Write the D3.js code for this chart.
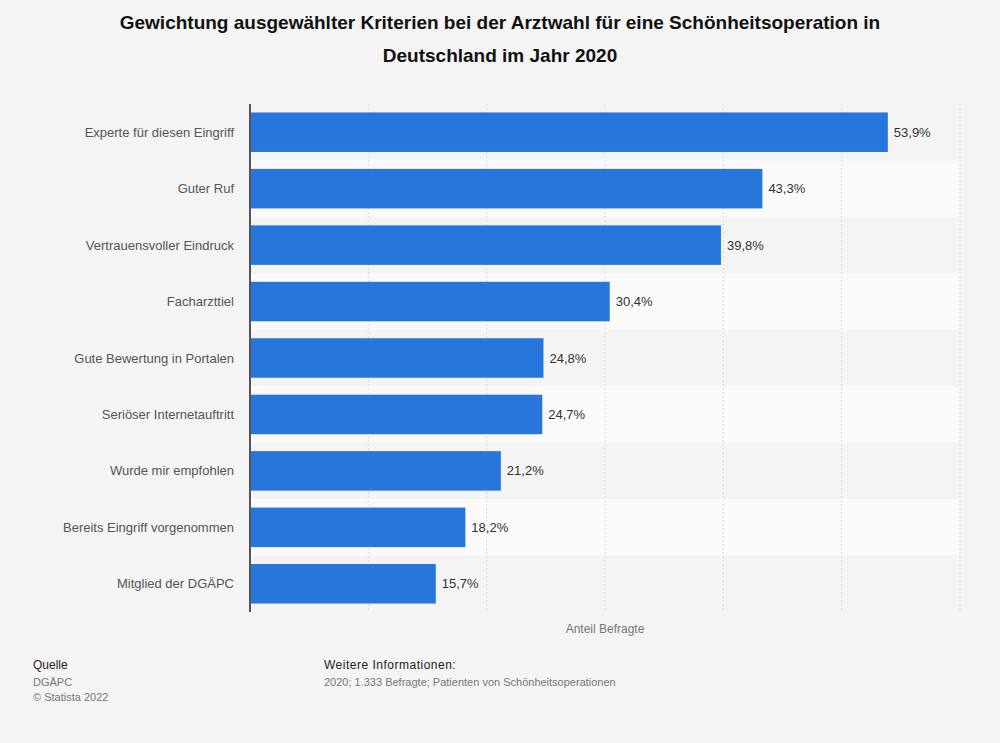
<!DOCTYPE html>
<html lang="de">
<head>
<meta charset="UTF-8">
<script src="https://cdn.jsdelivr.net/npm/d3@7"></script>
<style>
  body { margin: 0; background: #f4f4f4; }
  text { font-family: Arial, "Liberation Sans", sans-serif; }
</style>
</head>
<body>
<svg id="chart" width="1000" height="743"></svg>
<script>
const categories = ["Experte für diesen Eingriff", "Guter Ruf", "Vertrauensvoller Eindruck", "Facharzttiel",
  "Gute Bewertung in Portalen", "Seriöser Internetauftritt", "Wurde mir empfohlen",
  "Bereits Eingriff vorgenommen", "Mitglied der DGÄPC"];
const values = [53.9, 43.3, 39.8, 30.4, 24.8, 24.7, 21.2, 18.2, 15.7];
const ticks = [0, 10, 20, 30, 40, 50, 60];

const svg = d3.select("#chart");
svg.append("rect").attr("width", 1000).attr("height", 743).attr("fill", "#f4f4f4");

const x = d3.scaleLinear().domain([0, 60]).range([250, 960]);
const y = d3.scaleBand().domain(categories).range([104, 612]).paddingInner(0.3).paddingOuter(0.15);
const step = y.step();

// alternating row backgrounds
svg.append("g").selectAll("rect").data(categories).enter().append("rect")
  .attr("x", 250).attr("width", 710)
  .attr("y", d => y(d) - (step - y.bandwidth()) / 2)
  .attr("height", step)
  .attr("fill", (d, i) => i % 2 ? "#fafafa" : "#f4f4f4");

// gridlines
svg.append("g").selectAll("line").data(ticks.slice(1)).enter().append("line")
  .attr("x1", d => x(d)).attr("x2", d => x(d))
  .attr("y1", 104).attr("y2", 612)
  .attr("stroke", "#dcdcdc").attr("stroke-dasharray", "2,2");

// bars
svg.append("g").selectAll("rect").data(values).enter().append("rect")
  .attr("x", x(0)).attr("y", (d, i) => y(categories[i]))
  .attr("width", d => x(d) - x(0)).attr("height", y.bandwidth())
  .attr("fill", "#2776dc");

svg.append("g").selectAll("text").data(values).enter().append("text")
  .attr("x", d => x(d) + 6).attr("y", (d, i) => y(categories[i]) + y.bandwidth() / 2)
  .attr("dy", "0.35em").attr("font-size", 13).attr("fill", "#333")
  .text(d => d.toFixed(1).replace(".", ",") + "%");

// category labels
svg.append("g").selectAll("text").data(categories).enter().append("text")
  .attr("x", 234).attr("y", d => y(d) + y.bandwidth() / 2)
  .attr("dy", "0.35em").attr("text-anchor", "end").attr("font-size", 13).attr("fill", "#555")
  .text(d => d);

svg.append("line").attr("x1", 250).attr("x2", 250).attr("y1", 104).attr("y2", 612)
  .attr("stroke", "#555").attr("stroke-width", 2);

svg.append("text").attr("x", 605).attr("y", 633).attr("text-anchor", "middle")
  .attr("font-size", 12).attr("fill", "#777").text("Anteil Befragte");

// title
const title = svg.append("text").attr("text-anchor", "middle").attr("font-size", 19)
  .attr("font-weight", "bold").attr("fill", "#111");
title.append("tspan").attr("x", 500).attr("y", 29)
  .text("Gewichtung ausgewählter Kriterien bei der Arztwahl für eine Schönheitsoperation in");
title.append("tspan").attr("x", 500).attr("y", 62).text("Deutschland im Jahr 2020");

// footer
svg.append("text").attr("x", 33).attr("y", 669).attr("font-size", 12).attr("fill", "#222").text("Quelle");
svg.append("text").attr("x", 33).attr("y", 686).attr("font-size", 11).attr("fill", "#777").text("DGÄPC");
svg.append("text").attr("x", 33).attr("y", 701).attr("font-size", 11).attr("fill", "#777").text("© Statista 2022");
svg.append("text").attr("x", 324).attr("y", 669).attr("font-size", 12).attr("fill", "#222")
  .attr("letter-spacing", "0.5").text("Weitere Informationen:");
svg.append("text").attr("x", 324).attr("y", 686).attr("font-size", 11).attr("fill", "#777")
  .text("2020; 1.333 Befragte; Patienten von Schönheitsoperationen");
</script>
</body>
</html>
